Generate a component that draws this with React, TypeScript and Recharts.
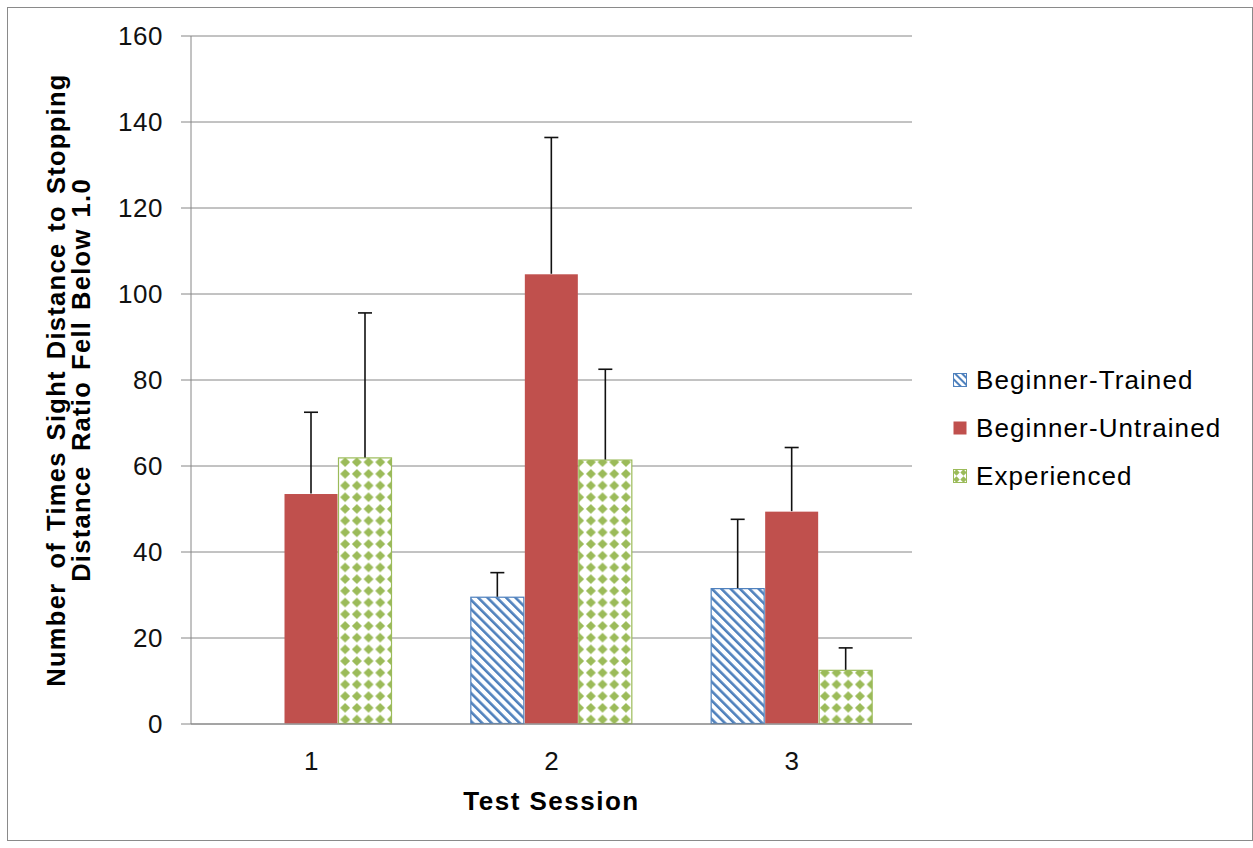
import { BarChart, Bar, XAxis, YAxis, CartesianGrid } from 'recharts';

const categories = ['1', '2', '3'];
const trained = [0, 29.6, 31.6];
const trainedErr = [0, 5.6, 16];
const untrained = [53.6, 104.7, 49.5];
const untrainedErr = [18.9, 31.7, 14.8];
const experienced = [62, 61.5, 12.6];
const experiencedErr = [33.6, 21, 5.1];
const yTicks = [0, 20, 40, 60, 80, 100, 120, 140, 160];

const FONT = '"Liberation Sans", Arial, sans-serif';
const GRID = '#868686';

const series = [
  { key: 'trained', err: 'trainedErr', name: 'Beginner-Trained', fill: 'url(#stripes)', stroke: '#4F81BD', swatch: 'url(#stripesLg)' },
  { key: 'untrained', err: 'untrainedErr', name: 'Beginner-Untrained', fill: '#C0504D', stroke: 'none', swatch: '#C0504D' },
  { key: 'experienced', err: 'experiencedErr', name: 'Experienced', fill: 'url(#diamonds)', stroke: '#9BBB59', swatch: 'url(#diamondsLg)' },
];

const data = categories.map((c, i) => ({
  session: c,
  trained: trained[i],
  trainedErr: trainedErr[i],
  untrained: untrained[i],
  untrainedErr: untrainedErr[i],
  experienced: experienced[i],
  experiencedErr: experiencedErr[i],
}));

// bar + upward-only error whisker, scaled from the bar's own pixel height
function makeShape(valueKey: string, errKey: string, fill: string, stroke: string) {
  return (props: any) => {
    const { x, y, width, height, payload } = props;
    const v = payload[valueKey];
    const e = payload[errKey];
    if (!v || height <= 0) return <g />;
    const ppu = height / v;
    const cx = x + width / 2;
    const top = y - e * ppu;
    return (
      <g>
        <rect
          x={x + 0.5}
          y={y + 0.5}
          width={width - 1}
          height={height - 1}
          fill={fill}
          stroke={stroke}
          strokeWidth={stroke === 'none' ? 0 : 1.2}
        />
        {e > 0 && (
          <g stroke="#111" strokeWidth={1.6}>
            <line x1={cx} y1={y} x2={cx} y2={top} />
            <line x1={cx - 7} y1={top} x2={cx + 7} y2={top} />
          </g>
        )}
      </g>
    );
  };
}

function YLabel(props: any) {
  const vb = props.viewBox || { y: 36, height: 688 };
  const cy = vb.y + vb.height / 2;
  const style = { fontFamily: FONT, fontSize: 25.5, fontWeight: 700, letterSpacing: 1.3, wordSpacing: 2.5 };
  return (
    <g>
      <text x={56} y={cy} transform={`rotate(-90 56 ${cy})`} textAnchor="middle" dominantBaseline="central" fill="#000" style={style}>
        {'Number\u2002of Times Sight Distance to Stopping'}
      </text>
      <text x={81} y={cy} transform={`rotate(-90 81 ${cy})`} textAnchor="middle" dominantBaseline="central" fill="#000" style={style}>
        {'Distance\u2002Ratio Fell Below 1.0'}
      </text>
    </g>
  );
}

function XLabel(props: any) {
  const vb = props.viewBox || { x: 191, y: 724, width: 721 };
  return (
    <text
      x={vb.x + vb.width / 2}
      y={vb.y + 77}
      textAnchor="middle"
      dominantBaseline="central"
      fill="#000"
      style={{ fontFamily: FONT, fontSize: 26, fontWeight: 700, letterSpacing: 1.5 }}
    >
      Test Session
    </text>
  );
}

function LegendBox() {
  const rows = [380, 428, 476];
  return (
    <div style={{ position: 'absolute', left: 0, top: 0 }}>
      {series.map((s, i) => (
        <div key={s.key} style={{ position: 'absolute', left: 953, top: rows[i] - 16, height: 32, display: 'flex', alignItems: 'center', whiteSpace: 'nowrap' }}>
          <svg width={14} height={14} style={{ display: 'block' }}>
            <defs>
              <pattern id="stripesLg" patternUnits="userSpaceOnUse" width={5} height={5} patternTransform="rotate(-45)">
                <rect width={5} height={5} fill="#fff" />
                <rect width={2} height={5} fill="#4F81BD" />
              </pattern>
              <pattern id="diamondsLg" patternUnits="userSpaceOnUse" width={7} height={7}>
                <rect width={7} height={7} fill="#fff" />
                <path d="M3.5 0.3 L6.7 3.5 L3.5 6.7 L0.3 3.5 Z" fill="#9BBB59" />
              </pattern>
            </defs>
            <rect x={0.5} y={0.5} width={13} height={13} fill={s.swatch} stroke={s.stroke === 'none' ? 'none' : s.stroke} />
          </svg>
          <span style={{ marginLeft: 9, fontFamily: FONT, fontSize: 26, letterSpacing: 1.1, color: '#000' }}>{s.name}</span>
        </div>
      ))}
    </div>
  );
}

export default function App() {
  return (
    <div style={{ position: 'absolute', left: 0, top: 0, width: 1253, height: 848, background: '#fff' }}>
      <div style={{ position: 'absolute', left: 7, top: 7, width: 1244, height: 832, border: '1px solid #8a8a8a' }} />
      <div style={{ position: 'absolute', left: 0, top: 0 }}>
        <BarChart
          width={1253}
          height={848}
          data={data}
          margin={{ top: 36, right: 341, bottom: 64, left: 0 }}
          barCategoryGap={39}
          barGap={0}
        >
          <defs>
            <pattern id="stripes" patternUnits="userSpaceOnUse" width={6.6} height={6.6} patternTransform="rotate(-45)">
              <rect width={6.6} height={6.6} fill="#fdfeff" />
              <rect width={2.6} height={6.6} fill="#4F81BD" />
            </pattern>
            <pattern id="diamonds" patternUnits="userSpaceOnUse" width={11.7} height={11.7}>
              <rect width={11.7} height={11.7} fill="#fff" />
              <path d="M5.85 0.9 L10.8 5.85 L5.85 10.8 L0.9 5.85 Z" fill="#9BBB59" />
            </pattern>
          </defs>
          <CartesianGrid vertical={false} stroke={GRID} strokeWidth={1} />
          <XAxis
            dataKey="session"
            height={60}
            axisLine={{ stroke: GRID }}
            tickLine={false}
            tickMargin={22}
            tick={{ fontSize: 26, fill: '#111', fontFamily: FONT }}
            label={<XLabel />}
          />
          <YAxis
            width={191}
            domain={[0, 160]}
            ticks={yTicks}
            interval={0}
            axisLine={{ stroke: GRID }}
            tickLine={{ stroke: GRID }}
            tickSize={10}
            tickMargin={18}
            tick={{ fontSize: 26, fill: '#111', fontFamily: FONT, letterSpacing: 0.5 }}
            label={<YLabel />}
          />
          {series.map((s) => (
            <Bar
              key={s.key}
              dataKey={s.key}
              name={s.name}
              fill={s.fill}
              isAnimationActive={false}
              shape={makeShape(s.key, s.err, s.fill, s.stroke)}
            />
          ))}
        </BarChart>
      </div>
      <LegendBox />
    </div>
  );
}
